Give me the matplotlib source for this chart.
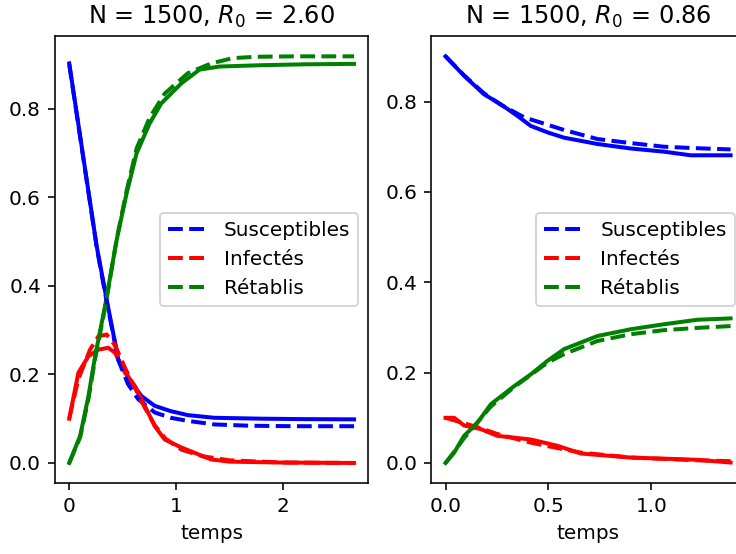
import matplotlib
matplotlib.use('Agg')
import matplotlib.pyplot as plt

# --- R0 = 2.60 (gauche) ---
tS1 = [0, 0.257, 0.35, 0.459, 0.583, 0.676, 0.8, 0.95, 1.11, 1.358, 1.8, 2.2, 2.664]
S1 = [0.902, 0.489, 0.369, 0.234, 0.181, 0.151, 0.129, 0.117, 0.108, 0.102, 0.100, 0.099, 0.0985]
tS1d = [0, 0.257, 0.35, 0.459, 0.55, 0.645, 0.8, 0.95, 1.11, 1.358, 1.7, 2.1, 2.664]
S1d = [0.9, 0.487, 0.365, 0.232, 0.178, 0.144, 0.114, 0.102, 0.095, 0.087, 0.084, 0.083, 0.083]

tI1 = [0, 0.086, 0.18, 0.273, 0.366, 0.428, 0.521, 0.614, 0.707, 0.8, 0.893, 1.048, 1.203, 1.327, 1.5, 2.0, 2.664]
I1 = [0.1, 0.204, 0.241, 0.256, 0.26, 0.249, 0.204, 0.174, 0.129, 0.083, 0.053, 0.035, 0.02, 0.008, 0.003, 0.001, 0.0]
tI1d = [0, 0.086, 0.195, 0.273, 0.35, 0.43, 0.521, 0.614, 0.707, 0.8, 0.9, 1.05, 1.25, 1.5, 2.0, 2.664]
I1d = [0.1, 0.19, 0.256, 0.286, 0.29, 0.265, 0.215, 0.17, 0.125, 0.085, 0.055, 0.03, 0.015, 0.006, 0.001, 0.0]

tR1 = [0, 0.102, 0.18, 0.242, 0.335, 0.444, 0.537, 0.63, 0.753, 0.862, 1.048, 1.219, 1.405, 1.8, 2.2, 2.664]
R1 = [0, 0.061, 0.151, 0.241, 0.354, 0.504, 0.609, 0.699, 0.767, 0.812, 0.857, 0.888, 0.895, 0.898, 0.900, 0.901]
tR1d = [0, 0.102, 0.18, 0.242, 0.335, 0.444, 0.537, 0.63, 0.753, 0.893, 1.11, 1.327, 1.529, 1.746, 2.1, 2.664]
R1d = [0, 0.058, 0.145, 0.235, 0.35, 0.505, 0.615, 0.71, 0.78, 0.834, 0.88, 0.902, 0.914, 0.917, 0.918, 0.918]

# --- R0 = 0.86 (droite) ---
tS2 = [0, 0.09, 0.187, 0.268, 0.35, 0.414, 0.5, 0.576, 0.738, 0.9, 1.061, 1.191, 1.385]
S2 = [0.9, 0.857, 0.816, 0.794, 0.768, 0.746, 0.731, 0.72, 0.706, 0.696, 0.689, 0.681, 0.681]
tS2d = [0, 0.09, 0.187, 0.268, 0.382, 0.576, 0.738, 0.9, 1.061, 1.2, 1.385]
S2d = [0.9, 0.858, 0.818, 0.793, 0.765, 0.737, 0.717, 0.708, 0.700, 0.697, 0.694]

tI2 = [0, 0.042, 0.09, 0.171, 0.252, 0.414, 0.544, 0.657, 0.9, 1.223, 1.385]
I2 = [0.1, 0.1, 0.083, 0.075, 0.06, 0.052, 0.038, 0.021, 0.012, 0.007, 0.001]
tI2d = [0, 0.09, 0.171, 0.252, 0.414, 0.544, 0.657, 0.9, 1.223, 1.385]
I2d = [0.1, 0.088, 0.077, 0.064, 0.045, 0.033, 0.023, 0.012, 0.006, 0.004]

tR2 = [0, 0.042, 0.09, 0.155, 0.22, 0.333, 0.414, 0.495, 0.576, 0.738, 0.9, 1.061, 1.223, 1.385]
R2 = [0, 0.023, 0.06, 0.089, 0.13, 0.17, 0.196, 0.226, 0.252, 0.281, 0.296, 0.307, 0.317, 0.32]
tR2d = [0, 0.042, 0.09, 0.155, 0.22, 0.333, 0.414, 0.495, 0.576, 0.738, 0.9, 1.061, 1.223, 1.385]
R2d = [0, 0.025, 0.055, 0.09, 0.125, 0.168, 0.195, 0.222, 0.241, 0.27, 0.285, 0.294, 0.299, 0.303]

titles = ['N = 1500, $R_0$ = 2.60', 'N = 1500, $R_0$ = 0.86']
labels = ['Susceptibles', 'Infectés', 'Rétablis']
colors = ['b', 'r', 'g']

panels = [
    [(tS1, S1, tS1d, S1d), (tI1, I1, tI1d, I1d), (tR1, R1, tR1d, R1d)],
    [(tS2, S2, tS2d, S2d), (tI2, I2, tI2d, I2d), (tR2, R2, tR2d, R2d)],
]

fig = plt.figure(figsize=(736 / 144, 554 / 144), dpi=144)
ax1 = fig.add_axes([0.0747, 0.1276, 0.4257, 0.8074])
ax2 = fig.add_axes([0.586, 0.1276, 0.4260, 0.8074])

for ax, curves, title in zip([ax1, ax2], panels, titles):
    # simulation stochastique en trait plein
    for (t, y, td, yd), c in zip(curves, colors):
        ax.plot(t, y, color=c, lw=2)
    # modele deterministe en tirets
    for (t, y, td, yd), c, lab in zip(curves, colors, labels):
        ax.plot(td, yd, '--', color=c, lw=2, label=lab)
    ax.set_title(title, fontsize=12)
    ax.set_xlabel('temps')
    ax.legend(loc='center right')

fig.savefig('out.png', dpi=144)
